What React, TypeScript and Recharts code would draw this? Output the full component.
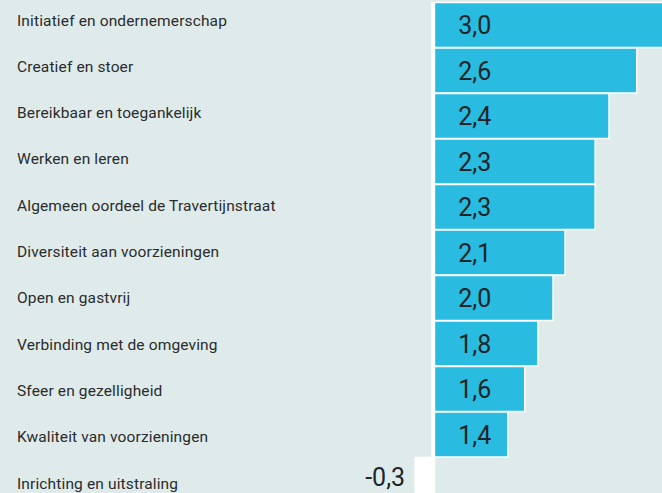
import React from "react"
import { BarChart, Bar, XAxis, YAxis, Cell, LabelList, ReferenceLine } from "recharts"

const categories = [
  "Initiatief en ondernemerschap",
  "Creatief en stoer",
  "Bereikbaar en toegankelijk",
  "Werken en leren",
  "Algemeen oordeel de Travertijnstraat",
  "Diversiteit aan voorzieningen",
  "Open en gastvrij",
  "Verbinding met de omgeving",
  "Sfeer en gezelligheid",
  "Kwaliteit van voorzieningen",
  "Inrichting en uitstraling",
]

// printed scores
const scores = [3.0, 2.6, 2.4, 2.3, 2.3, 2.1, 2.0, 1.8, 1.6, 1.4, -0.3]

// bar lengths as drawn in the artwork (the bars are not to scale with the printed scores)
const barValues = [3.9, 3.38, 2.92, 2.69, 2.69, 2.19, 1.99, 1.74, 1.52, 1.24, -0.3]

const data = categories.map((name, i) => ({ name, score: scores[i], bar: barValues[i] }))

const BG = "#dfebeb"
const BLUE = "#29bbe0"

const fmt = (v: number) => v.toFixed(1).replace(".", ",")

const CategoryTick = (props: any) => {
  const { y, index, payload } = props
  return (
    <text
      x={17}
      y={y - 4.5 + 0.8 * index}
      dominantBaseline="central"
      fontSize={15.5}
      letterSpacing={0.14}
      fill="#2b2b2b"
      fontFamily="Roboto, sans-serif"
    >
      {payload.value}
    </text>
  )
}

const ScoreLabel = (props: any) => {
  const { x, y, width, height, index } = props
  const v = scores[index]
  const cy = y + height / 2
  if (v < 0) {
    const left = Math.min(x, x + width)
    return (
      <text x={left - 10} y={cy - 3} textAnchor="end" dominantBaseline="central" fontSize={25} fill="#1f2526">
        {fmt(v)}
      </text>
    )
  }
  return (
    <text x={x + 25} y={cy + 0.5} textAnchor="start" dominantBaseline="central" fontSize={25} fill="#1f2526">
      {fmt(v)}
    </text>
  )
}

export default function App() {
  return (
    <div
      style={{
        position: "absolute",
        left: 0,
        top: 0,
        width: 662,
        height: 493,
        overflow: "hidden",
        background: BG,
        fontFamily: "Roboto, sans-serif",
      }}
    >
      <BarChart
        width={662}
        height={503}
        layout="vertical"
        data={data}
        margin={{ top: 2.25, right: 0, bottom: 0.25, left: 0 }}
        barCategoryGap={0.25}
      >
        <XAxis type="number" domain={[-1, 3.8]} hide allowDataOverflow />
        <YAxis
          type="category"
          dataKey="name"
          width={373}
          axisLine={false}
          tickLine={false}
          interval={0}
          tick={CategoryTick}
        />
        <Bar dataKey="bar" fill={BLUE} stroke="#fff" strokeWidth={1.5} isAnimationActive={false}>
          {data.map((d, i) => (
            <Cell key={`cell-${i}`} fill={d.bar < 0 ? "#fff" : BLUE} />
          ))}
          <LabelList dataKey="score" content={ScoreLabel} />
        </Bar>
        <ReferenceLine x={0} stroke="#fff" strokeWidth={4} />
      </BarChart>
    </div>
  )
}
